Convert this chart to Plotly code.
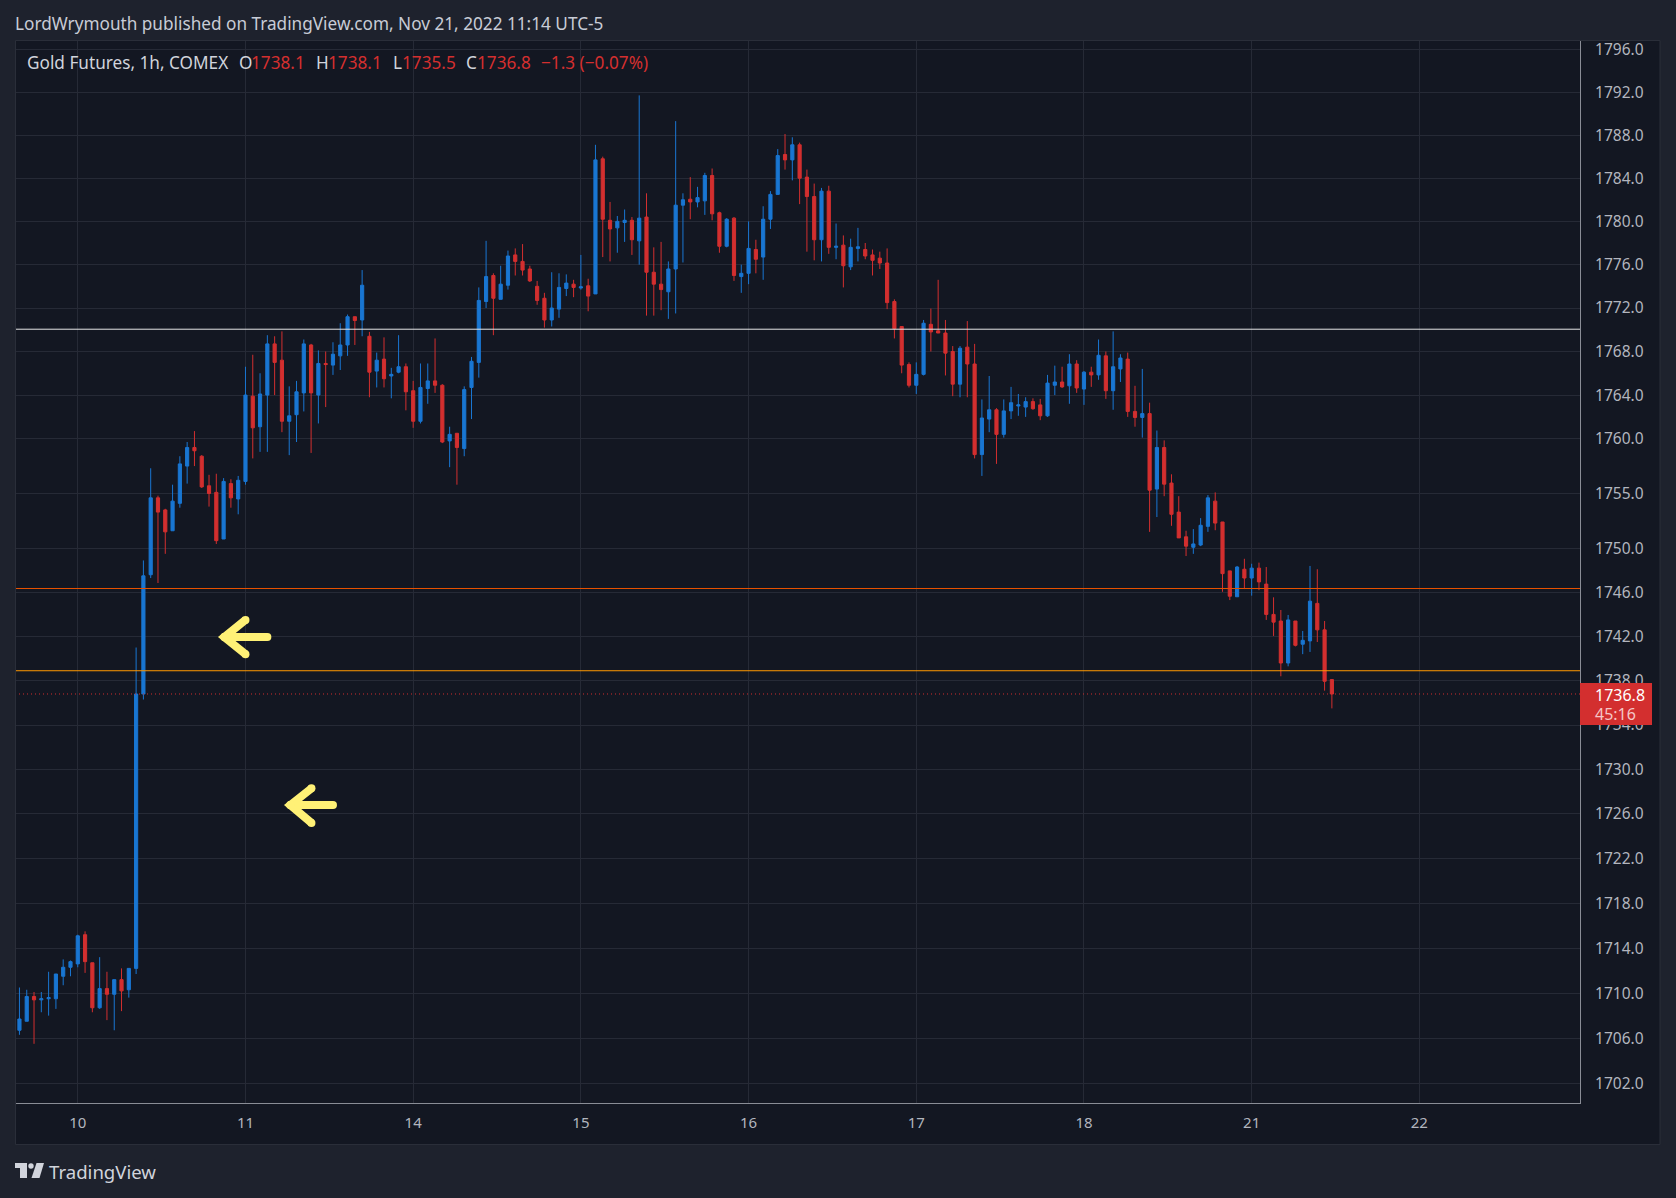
import math
import plotly.graph_objects as go

opens = [1706.7,1707.5,1709.7,1709.4,1709.5,1709.5,1711.5,1712.3,1712.6,1715.2,
1712.7,1708.7,1710.4,1709.9,1711.2,1710.3,1712.2,1736.8,1747.6,1754.6,
1753.5,1751.6,1754.1,1757.5,1759.2,1758.4,1755.7,1755.1,1750.85,1755.9,
1754.5,1756.1,1763.9,1761.1,1764.0,1768.7,1767.2,1761.6,1762.2,1764.2,
1768.6,1764.0,1766.9,1766.75,1767.6,1768.6,1771.2,1770.9,1769.4,1766.2,
1767.3,1765.75,1766.1,1766.6,1764.4,1761.6,1764.6,1765.3,1764.9,1759.8,
1760.5,1759.1,1764.7,1767.0,1772.6,1775.0,1772.8,1774.1,1776.9,1776.3,
1775.6,1774.0,1772.9,1770.9,1771.9,1773.8,1774.2,1773.85,1774.05,1773.3,
1785.8,1780.1,1779.4,1779.9,1780.1,1778.2,1780.4,1775.3,1774.2,1773.5,
1775.6,1781.5,1782.05,1781.8,1781.9,1784.25,1780.8,1777.7,1780.3,1774.9,
1775.2,1777.4,1776.7,1780.2,1782.5,1786.2,1785.7,1787.1,1784.1,1782.3,
1778.3,1782.8,1777.6,1777.8,1775.8,1777.5,1777.4,1776.9,1776.6,1776.15,
1772.6,1770.3,1766.8,1764.9,1765.9,1770.5,1769.9,1769.7,1768.0,1765.0,
1768.4,1766.85,1758.55,1761.8,1762.65,1760.4,1762.55,1763.0,1762.9,1763.4,
1763.1,1762.1,1764.9,1765.2,1764.85,1766.85,1764.55,1766.1,1765.85,1767.6,
1764.4,1766.4,1767.3,1762.5,1761.95,1762.3,1755.4,1759.2,1755.95,1753.3,
1751.05,1750.1,1750.3,1752.0,1754.3,1752.4,1747.95,1745.6,1748.1,1747.3,
1748.2,1746.75,1744.0,1743.4,1739.6,1743.4,1741.3,1741.6,1745.0,1742.6,1738.1]

highs = [1710.5,1710.3,1710.1,1710.1,1711.9,1711.7,1713.0,1712.9,1715.2,1715.5,
1712.7,1713.2,1711.9,1711.2,1712.2,1712.2,1741.0,1748.9,1757.3,1754.8,
1753.6,1755.8,1758.4,1759.7,1760.7,1758.5,1756.7,1756.8,1756.4,1756.3,
1756.6,1766.6,1767.7,1766.0,1769.5,1769.4,1769.85,1764.8,1765.3,1769.1,
1768.7,1768.1,1768.0,1768.85,1770.6,1771.4,1771.2,1775.5,1769.8,1767.9,
1769.3,1766.5,1769.5,1766.9,1765.3,1766.9,1766.9,1769.2,1765.0,1761.1,
1760.5,1764.8,1767.5,1773.9,1778.2,1775.2,1775.9,1777.3,1777.5,1777.9,
1775.9,1774.5,1773.4,1775.3,1775.2,1775.1,1774.6,1776.9,1774.7,1787.1,
1786.0,1781.8,1780.5,1781.1,1780.4,1791.7,1782.6,1777.6,1778.1,1776.3,
1789.3,1782.6,1784.1,1783.2,1784.5,1784.9,1780.9,1780.3,1780.4,1776.0,
1780.0,1778.3,1781.4,1782.8,1786.7,1788.1,1787.8,1787.3,1784.8,1783.5,
1783.1,1783.3,1779.8,1778.7,1778.4,1779.4,1778.0,1777.4,1777.2,1777.5,
1772.8,1770.3,1767.0,1767.0,1770.9,1771.95,1774.6,1770.9,1768.5,1768.5,
1770.8,1768.7,1763.6,1765.75,1762.8,1763.6,1764.75,1764.1,1763.8,1763.7,
1763.65,1765.85,1766.7,1766.6,1767.75,1767.2,1766.2,1766.6,1769.1,1768.0,
1769.85,1767.75,1767.9,1764.85,1766.4,1763.3,1760.75,1759.85,1756.75,1754.75,
1751.6,1751.75,1752.75,1754.85,1755.1,1752.4,1747.95,1748.4,1749.05,1748.6,
1748.7,1748.3,1745.55,1744.4,1743.95,1743.4,1742.5,1748.4,1748.1,1743.4,1738.1]

lows = [1706.3,1707.5,1705.5,1708.3,1708.0,1708.6,1710.7,1711.5,1712.3,1711.8,
1708.3,1708.6,1707.6,1706.7,1708.4,1709.6,1711.7,1736.3,1747.3,1746.85,
1749.5,1751.6,1753.7,1755.9,1757.5,1755.5,1753.8,1750.4,1750.85,1753.7,
1753.1,1755.8,1758.2,1758.8,1758.8,1764.0,1760.6,1758.5,1759.7,1762.5,
1758.7,1761.4,1762.9,1765.85,1766.3,1767.6,1768.6,1769.4,1763.8,1764.7,
1764.7,1763.7,1766.0,1762.6,1761.0,1761.4,1763.2,1764.2,1759.6,1757.4,
1755.8,1758.4,1761.8,1765.6,1772.0,1769.5,1772.8,1773.7,1775.0,1775.0,
1774.4,1772.3,1770.2,1770.3,1771.1,1773.1,1773.0,1773.7,1771.7,1773.3,
1776.7,1776.3,1777.1,1778.1,1776.9,1776.0,1771.3,1771.3,1771.8,1771.0,
1771.5,1776.2,1780.2,1781.3,1780.6,1780.1,1777.1,1777.6,1774.5,1773.4,
1774.2,1775.2,1774.6,1779.3,1782.5,1784.8,1783.8,1781.6,1777.2,1776.4,
1776.3,1777.0,1776.5,1773.9,1775.5,1776.3,1776.5,1775.0,1775.6,1771.9,
1769.2,1766.0,1764.7,1764.1,1765.8,1768.0,1769.7,1765.8,1763.9,1763.8,
1763.8,1758.2,1756.6,1760.6,1757.7,1760.1,1761.8,1762.1,1762.0,1762.65,
1761.7,1762.0,1764.0,1764.65,1763.2,1764.2,1763.1,1764.75,1765.4,1763.65,
1762.65,1765.2,1762.0,1761.1,1760.1,1751.5,1752.85,1754.75,1752.05,1750.95,
1749.3,1749.5,1750.2,1751.5,1751.65,1746.05,1745.3,1745.6,1746.3,1745.7,
1746.2,1743.5,1742.05,1738.4,1739.3,1741.1,1740.4,1740.6,1741.5,1737.1,1735.5]

closes = [1707.7,1709.7,1709.4,1709.5,1709.6,1711.7,1712.3,1712.8,1715.1,1712.8,
1708.7,1710.4,1709.9,1711.2,1710.2,1712.2,1736.8,1747.5,1754.6,1753.3,
1751.5,1754.3,1757.7,1759.2,1758.9,1755.6,1755.0,1750.7,1756.1,1754.6,
1756.2,1764.0,1761.0,1764.1,1768.7,1767.0,1761.6,1762.1,1764.3,1768.7,
1764.2,1766.9,1766.8,1767.75,1768.6,1771.2,1770.85,1774.1,1766.1,1767.2,
1765.5,1765.9,1766.6,1764.3,1761.6,1764.7,1765.3,1764.9,1759.7,1760.4,
1759.2,1764.5,1767.1,1772.7,1774.9,1772.9,1774.2,1776.8,1776.3,1775.5,
1774.5,1772.7,1770.9,1772.0,1773.9,1774.3,1773.9,1773.95,1773.1,1785.7,
1780.2,1779.3,1780.0,1780.1,1778.3,1780.3,1775.3,1774.2,1773.7,1775.6,
1781.5,1782.0,1781.8,1782.2,1784.25,1780.7,1777.7,1780.2,1775.0,1775.2,
1777.5,1776.5,1780.2,1782.5,1786.1,1785.7,1787.1,1784.0,1782.3,1778.3,
1782.8,1777.6,1777.7,1775.9,1777.6,1777.65,1776.8,1776.4,1776.15,1772.5,
1770.1,1766.75,1764.9,1765.9,1770.6,1769.8,1769.7,1767.85,1765.0,1768.3,
1766.85,1758.55,1761.9,1762.65,1760.4,1762.55,1763.3,1763.1,1763.4,1762.75,
1762.1,1765.1,1765.2,1764.75,1766.85,1764.65,1766.1,1765.85,1767.65,1764.4,
1766.6,1767.4,1762.5,1761.95,1762.3,1755.3,1759.2,1755.85,1753.1,1750.95,
1750.2,1750.4,1752.1,1754.6,1752.3,1747.7,1745.65,1748.3,1747.3,1748.2,
1746.95,1744.0,1743.3,1739.6,1743.5,1741.2,1741.65,1745.2,1742.6,1737.95,1736.8]

bars = list(range(len(closes)))

day_bars = [8, 31, 54, 77, 100, 123, 146, 169, 192]
day_labels = ["10", "11", "14", "15", "16", "17", "18", "21", "22"]

price_ticks = [1702, 1706, 1710, 1714, 1718, 1722, 1726, 1730, 1734, 1738, 1742, 1746, 1750,
               1755, 1760, 1764, 1768, 1772, 1776, 1780, 1784, 1788, 1792, 1796]
price_labels = ["%.1f" % p for p in price_ticks]

level_white = 1770.05
level_red = 1746.35
level_orange = 1738.9
last_close = 1736.8

arrow1_x = [31.0, 28.1, 31.0, 28.1, 34.0]
arrow1_y = [1743.5, 1741.95, 1740.4, 1741.95, 1741.95]
arrow2_x = [40.05, 37.15, 40.05, 37.15, 43.0]
arrow2_y = [1728.3, 1726.8, 1725.2, 1726.8, 1726.8]

W, H = 1676, 1198
L_, R_, T_, B_ = 16, 1580, 41, 1103
FONT = "Noto Sans"
GREY = "#b2b5be"
TEXT = "#d1d4dc"
RED = "#d32f2f"
BLUE = "#1976d2"
PANE = "#131722"
OUTER = "#1e222d"
GRID = "#262a36"


def px(x):
    return (x - L_) / (R_ - L_)


def py(y):
    return (B_ - y) / (B_ - T_)


fig = go.Figure()
fig.add_trace(go.Candlestick(
    x=bars, open=opens, high=highs, low=lows, close=closes,
    increasing=dict(line=dict(color=BLUE, width=1), fillcolor=BLUE),
    decreasing=dict(line=dict(color=RED, width=1), fillcolor=RED),
    whiskerwidth=0, hoverinfo="skip", showlegend=False,
))

x_ends = [-5, 220]
for lvl, col, dash, w in [(level_white, "#e6e6e6", "solid", 1), (level_red, "#e65100", "solid", 1),
                          (level_orange, "#ff9800", "solid", 1), (last_close, RED, "1px,3px", 1)]:
    fig.add_trace(go.Scatter(x=x_ends, y=[lvl, lvl], mode="lines", showlegend=False, hoverinfo="skip",
                             line=dict(color=col, width=w, dash=dash)))

for ax_, ay_ in [(arrow1_x, arrow1_y), (arrow2_x, arrow2_y)]:
    fig.add_trace(go.Scatter(x=ax_, y=ay_, mode="lines+markers", showlegend=False, hoverinfo="skip",
                             line=dict(color="#fff176", width=8, shape="linear"),
                             marker=dict(color="#fff176", size=8, line=dict(width=0))))

shapes = [
    dict(type="rect", xref="paper", yref="paper", layer="below", x0=px(15.5), x1=px(1660),
         y0=py(40.5), y1=py(1144.5), fillcolor=PANE, line=dict(color="#2a2e39", width=1)),
    dict(type="rect", xref="paper", yref="paper", layer="above", x0=px(1580), x1=px(1652),
         y0=py(683), y1=py(725), fillcolor=RED, line=dict(width=0)),
    dict(type="rect", xref="paper", yref="paper", layer="above", x0=px(15), x1=px(27),
         y0=py(1163), y1=py(1168), fillcolor=TEXT, line=dict(width=0)),
    dict(type="rect", xref="paper", yref="paper", layer="above", x0=px(20), x1=px(27),
         y0=py(1163), y1=py(1178), fillcolor=TEXT, line=dict(width=0)),
    dict(type="circle", xref="paper", yref="paper", layer="above", x0=px(28.3), x1=px(33.7),
         y0=py(1163.3), y1=py(1168.7), fillcolor=TEXT, line=dict(width=0)),
    dict(type="path", xref="paper", yref="paper", layer="above",
         path="M %f %f L %f %f L %f %f L %f %f Z" % (px(36.5), py(1163), px(44), py(1163),
                                                     px(39.5), py(1178), px(31.5), py(1178)),
         fillcolor=TEXT, line=dict(width=0)),
]

annots = []


def label(text, x, y, size=15, color=TEXT, anchor="left"):
    annots.append(dict(text=text, x=px(x), y=py(y), xref="paper", yref="paper", showarrow=False,
                       xanchor=anchor, yanchor="middle", align="left",
                       font=dict(family=FONT, size=size, color=color), borderpad=0, borderwidth=0))


LG = 17.2
label("LordWrymouth published on TradingView.com, Nov 21, 2022 11:14 UTC-5", 15, 23, size=17.2, color="#c8ccd6")
label("Gold Futures, 1h, COMEX", 27, 63, size=LG)
label("O", 239, 63, size=LG)
label("1738.1", 251, 63, size=LG, color=RED)
label("H", 316, 63, size=LG)
label("1738.1", 328, 63, size=LG, color=RED)
label("L", 393, 63, size=LG)
label("1735.5", 402, 63, size=LG, color=RED)
label("C", 466, 63, size=LG)
label("1736.8", 477, 63, size=LG, color=RED)
label("\u22121.3 (\u22120.07%)", 541, 63, size=LG, color=RED)
label("1736.8", 1595, 695, size=16, color="#ffffff")
label("45:16", 1595, 714, size=16, color="#f5c6c6")
label("TradingView", 49, 1171, size=18.6, color=TEXT)

ymin = math.log10(1700.26)
ymax = math.log10(1796.77)

fig.update_layout(
    width=W, height=H, autosize=False,
    margin=dict(l=L_, r=W - R_, t=T_, b=H - B_, pad=0),
    paper_bgcolor=OUTER, plot_bgcolor=PANE,
    showlegend=False, dragmode=False, hovermode=False, boxgap=0.38,
    shapes=shapes, annotations=annots,
    xaxis=dict(range=[-0.473, 214.03], tickmode="array", tickvals=day_bars, ticktext=day_labels,
               showgrid=True, gridcolor=GRID, gridwidth=1, zeroline=False, rangeslider=dict(visible=False),
               showline=True, linecolor="#8a8d96", linewidth=1, ticks="outside", ticklen=6,
               tickcolor="rgba(0,0,0,0)", tickfont=dict(family=FONT, size=15, color=GREY)),
    yaxis=dict(type="log", side="right",
               range=[ymin, ymax], tickmode="array", tickvals=price_ticks, ticktext=price_labels,
               showgrid=True, gridcolor=GRID, gridwidth=1, zeroline=False,
               showline=True, linecolor="#8a8d96", linewidth=1, ticks="outside", ticklen=11,
               tickcolor="rgba(0,0,0,0)", tickfont=dict(family=FONT, size=15.5, color=GREY)),
)

fig.write_html("out.html", include_plotlyjs=True, config={"displayModeBar": False},
               post_script="document.body.style.margin='0';document.body.style.overflow='hidden';")
